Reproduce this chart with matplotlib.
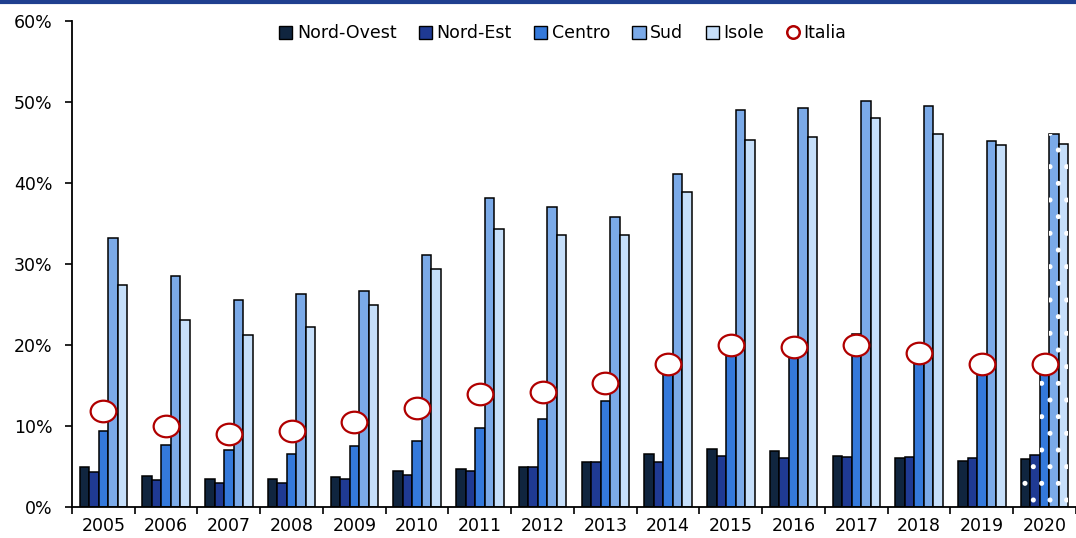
import numpy as np
import matplotlib
matplotlib.use("Agg")
import matplotlib.pyplot as plt
from matplotlib.path import Path
from matplotlib.patches import Patch
from matplotlib.lines import Line2D

plt.rcParams['font.family'] = ['DejaVu Sans']
plt.rcParams['hatch.linewidth'] = 1.2

years = ['2005', '2006', '2007', '2008', '2009', '2010', '2011', '2012',
         '2013', '2014', '2015', '2016', '2017', '2018', '2019', '2020']
nord_ovest = [4.9, 3.8, 3.5, 3.5, 3.7, 4.5, 4.7, 5.0, 5.6, 6.5, 7.2, 6.9, 6.3, 6.1, 5.7, 5.9]
nord_est = [4.3, 3.3, 3.0, 3.0, 3.5, 4.0, 4.4, 4.9, 5.6, 5.6, 6.3, 6.0, 6.2, 6.2, 6.0, 6.4]
centro = [9.4, 7.6, 7.0, 6.6, 7.5, 8.1, 9.7, 10.9, 13.1, 17.4, 19.4, 19.4, 21.4, 18.8, 17.3, 17.4]
sud = [33.2, 28.5, 25.5, 26.3, 26.7, 31.1, 38.1, 37.0, 35.8, 41.1, 49.0, 49.3, 50.1, 49.5, 45.2, 46.0]
isole = [27.4, 23.1, 21.2, 22.2, 24.9, 29.4, 34.3, 33.6, 33.6, 38.9, 45.3, 45.7, 48.0, 46.0, 44.7, 44.8]
italia = [11.9, 10.0, 9.0, 9.4, 10.5, 12.2, 14.0, 14.2, 15.3, 17.7, 20.0, 19.7, 20.0, 19.0, 17.6, 17.7]

series = [('Nord-Ovest', nord_ovest, '#10253F'),
          ('Nord-Est', nord_est, '#1F3A93'),
          ('Centro', centro, '#3479DB'),
          ('Sud', sud, '#7BAAE8'),
          ('Isole', isole, '#C6DFFA')]
italia_color = '#B00000'

fig = plt.figure(figsize=(10.76, 5.38), dpi=100)
ax = fig.add_axes([0.0669, 0.0576, 0.9331, 0.9034])

x = np.arange(len(years))
bw = 0.152
for j, (name, vals, col) in enumerate(series):
    pos = x + (j - 2) * bw
    ax.bar(pos, vals, width=bw, color=col, edgecolor='black', linewidth=1.1, zorder=2)
    # last year drawn with a dotted overlay (provisional figure)
    ax.bar(pos[-1], vals[-1], width=bw, facecolor='none', edgecolor='white',
           hatch='.', linewidth=0, zorder=3)

# elliptical marker for the national value
circ = Path.unit_circle()
ell = Path(circ.vertices * np.array([1.0, 0.84]), circ.codes)
ax.plot(x, italia, linestyle='none', marker=ell, markersize=18.5,
        markerfacecolor='white', markeredgecolor=italia_color,
        markeredgewidth=1.6, zorder=5)

ax.set_xlim(-0.5, len(years) - 0.5)
ax.set_ylim(0, 60)
ax.set_yticks(np.arange(0, 61, 10))
ax.set_yticklabels([f'{v}%' for v in range(0, 61, 10)], fontsize=12.5)
ax.set_xticks(x)
ax.set_xticklabels(years, fontsize=12.5)
ax.tick_params(axis='x', length=0, pad=7)
ax.set_xticks(np.arange(-0.5, len(years), 1), minor=True)
ax.tick_params(axis='x', which='minor', length=5, width=1.2, direction='out')
ax.tick_params(axis='y', length=5, width=1.2, direction='out', pad=9)

for s in ['top', 'right']:
    ax.spines[s].set_visible(False)
for s in ['left', 'bottom']:
    ax.spines[s].set_linewidth(1.3)

handles = [Patch(facecolor=col, edgecolor='black', linewidth=1.0, label=name)
           for name, _, col in series]
handles.append(Line2D([], [], linestyle='none', marker='o', markersize=9,
                      markerfacecolor='white', markeredgecolor=italia_color,
                      markeredgewidth=1.8, label='Italia'))
ax.legend(handles=handles, loc='upper center', bbox_to_anchor=(0.489, 1.025),
          ncol=6, frameon=False, fontsize=12.5, handlelength=0.75,
          handleheight=0.75, handletextpad=0.25, columnspacing=1.3)

# band along the top edge
fig.add_artist(Line2D([0, 1], [0.997, 0.997], transform=fig.transFigure,
                      color='#1F3F8F', linewidth=3))

fig.savefig('out.png', dpi=100)
